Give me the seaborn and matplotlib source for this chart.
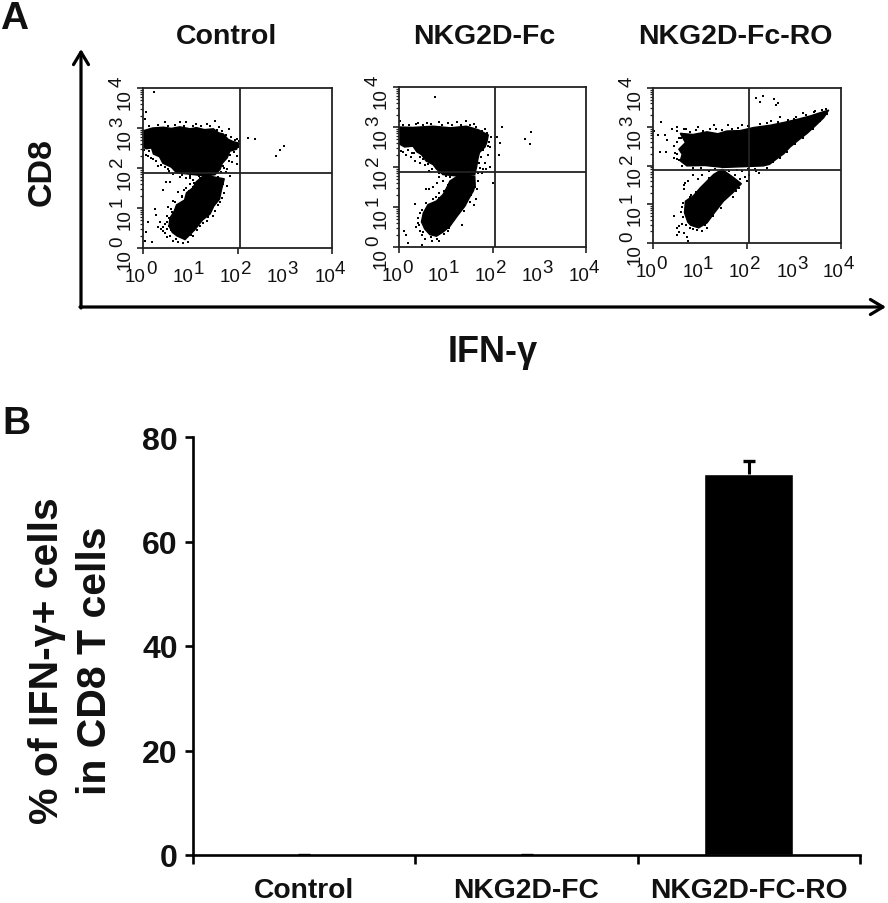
import numpy as np
import pandas as pd
import matplotlib
matplotlib.use("Agg")
import matplotlib.pyplot as plt
import seaborn as sns
from matplotlib.transforms import blended_transform_factory as blend

sns.set_theme(style="white")
plt.rcParams['font.family'] = ['Liberation Sans', 'DejaVu Sans']

W, H = 888, 904
PANEL_TITLES = ["Control", "NKG2D-Fc", "NKG2D-Fc-RO"]
BAR_CATS = ["Control", "NKG2D-FC", "NKG2D-FC-RO"]
BAR_VALS = [0.0, 0.0, 72.9]
BAR_ERR = [0.0, 0.0, 2.6]

# Flow cytometry populations, in log10 decades (IFN-g, CD8)
control_top = [(0,2.93),(0.2,3.0),(0.43,3.02),(0.6,2.99),(0.78,3.03),(1.0,2.98),(1.13,3.01),(1.3,2.96),(1.49,2.98),(1.6,2.88),(1.70,2.85),(1.8,2.72),(1.91,2.66),(2.04,2.62),(1.98,2.47),(1.84,2.42),(1.78,2.25),(1.68,2.12),(1.63,1.96),(1.52,1.83),(1.30,1.80),(1.10,1.83),(0.71,1.88),(0.60,2.02),(0.42,2.12),(0.35,2.28),(0.22,2.35),(0.18,2.5),(0.07,2.48),(0,2.52)]
control_low = [(1.30,1.82),(1.72,1.73),(1.66,1.45),(1.62,1.22),(1.50,1.05),(1.42,0.85),(1.26,0.70),(1.10,0.46),(0.89,0.21),(0.72,0.30),(0.62,0.39),(0.55,0.55),(0.57,0.75),(0.66,0.92),(0.71,1.08),(0.88,1.20),(0.92,1.38),(1.05,1.50),(1.13,1.66)]
control_pts = [(0.23,3.89),(0.06,3.39),(0.04,3.22),(0.46,3.14),(0.78,3.16),(0.92,3.14),(1.13,3.1),(1.35,3.1),(1.52,3.18),(1.6,3.02),(1.81,2.98),(1.99,2.73),(2.22,2.76),(2.38,2.72),(2.99,2.56),(2.91,2.46),(2.82,2.29),(1.99,2.31),(1.88,2.14),(1.77,1.98),(1.99,2.1),(1.7,2.06),(0.48,1.66),(0.58,1.66),(0.43,1.45),(0.78,1.77),(0.99,1.6),(1.06,1.52),(0.74,1.39),(0.64,1.18),(0.53,1.02),(0.25,0.98),(0.28,0.83),(0.35,0.64),(0.32,0.52),(0.43,0.43),(0.51,0.27),(0.64,0.18),(0.74,0.14),(0.11,0.64),(0.07,0.39),(0.18,0.14),(0.04,0.18),(0.5,0.64),(0.43,0.52),(1.7,1.6),(1.63,1.39),(1.63,1.14),(1.49,0.81),(1.35,0.68),(1.21,0.56),(1.06,0.31),(0.11,2.31),(0.21,2.23),(0.32,2.06),(0.43,2.14),(0.53,1.98),(0.35,2.31),(0.64,1.85),(1.0,1.8),(1.2,1.75),(1.05,1.7),(0.9,1.75),(0.55,0.55),(0.6,0.45),(0.47,0.6),(0.55,0.75),(0.62,0.9),(1.75,1.9),(1.85,1.8),(0.9,1.5),(0.82,1.3)]
control_fuzz = [(0.12,3.05),(0.31,3.07),(0.52,3.06),(0.68,3.08),(0.87,3.05),(1.05,3.06),(1.22,3.05),(1.41,3.04),(1.56,2.96),(1.67,2.93),(1.76,2.83),(1.86,2.78),(1.95,2.70),(2.03,2.68),(2.02,2.53),(1.92,2.40),(1.85,2.33),(1.83,2.18),(1.72,2.00),(1.66,1.90),(1.58,1.78),(1.45,1.74),(1.36,1.70),(1.28,1.72),(1.52,1.68),(1.18,1.80),(1.00,1.74),(0.82,1.83),(0.68,1.96),(0.56,1.92),(0.47,2.03),(0.38,2.08),(0.28,2.18),(0.16,2.26),(0.12,2.42),(0.03,2.44),(0.07,2.33),(1.77,1.55),(1.72,1.38),(1.68,1.26),(1.58,1.08),(1.52,0.93),(1.38,0.78),(1.28,0.62),(1.15,0.44),(1.02,0.32),(0.95,0.16),(0.84,0.12),(0.70,0.22),(0.58,0.30),(0.50,0.47),(0.46,0.37),(0.38,0.47),(0.50,0.80),(0.59,0.98),(0.68,1.14),(0.82,1.28),(0.87,1.44),(0.98,1.42),(1.07,1.62)]

fc_top = [(0,3.0),(0.3,2.99),(0.73,3.02),(1.1,2.98),(1.44,3.02),(1.70,2.93),(1.91,2.80),(1.88,2.62),(1.84,2.50),(1.72,2.36),(1.69,2.21),(1.66,2.0),(1.62,1.81),(1.2,1.78),(0.94,1.81),(0.80,1.95),(0.73,2.06),(0.58,2.15),(0.48,2.31),(0.38,2.38),(0.30,2.52),(0.12,2.50),(0,2.58)]
fc_low = [(1.62,1.77),(1.63,1.55),(1.59,1.40),(1.50,1.22),(1.41,1.02),(1.25,0.78),(1.09,0.52),(0.95,0.38),(0.8,0.27),(0.66,0.31),(0.55,0.45),(0.48,0.63),(0.52,0.85),(0.62,1.06),(0.80,1.15),(0.94,1.31),(1.02,1.48),(1.09,1.65),(1.3,1.81)]
fc_pts = [(0.76,3.74),(0.03,3.15),(0.4,3.1),(0.6,3.1),(0.85,3.13),(1.05,3.1),(1.25,3.13),(1.44,3.15),(1.6,3.08),(1.85,2.95),(2.1,2.75),(2.16,2.6),(2.14,2.3),(2.2,3.0),(2.7,2.7),(2.8,2.58),(2.82,2.88),(1.95,2.5),(1.9,2.3),(1.85,2.1),(1.95,2.0),(1.8,1.95),(2.0,1.6),(1.62,1.5),(1.65,1.2),(1.6,1.05),(1.4,0.9),(1.35,0.55),(1.05,0.4),(0.85,0.15),(0.7,0.15),(0.55,0.2),(0.5,0.05),(0.1,0.4),(0.15,0.3),(0.2,0.1),(0.35,1.08),(0.45,0.85),(0.4,0.6),(0.37,0.5),(0.45,0.4),(0.5,0.3),(0.57,1.45),(0.65,1.45),(0.72,1.5),(0.82,1.6),(0.85,1.35),(0.8,1.25),(0.85,1.75),(1.0,1.78),(0.95,1.65),(0.05,2.4),(0.15,2.3),(0.25,2.25),(0.35,2.15),(0.45,2.1),(0.55,2.05),(0.65,1.9)]
fc_fuzz = [(0.08,3.06),(0.22,3.05),(0.36,3.07),(0.52,3.06),(0.68,3.07),(0.92,3.05),(1.14,3.05),(1.32,3.06),(1.52,3.04),(1.64,3.0),(1.77,2.91),(1.89,2.86),(1.96,2.76),(1.93,2.62),(1.90,2.52),(1.79,2.42),(1.76,2.26),(1.71,2.10),(1.74,1.97),(1.86,1.94),(1.77,1.86),(1.68,1.84),(1.55,1.70),(1.44,1.74),(1.32,1.68),(1.22,1.72),(1.10,1.74),(0.86,1.86),(0.70,1.96),(0.62,2.08),(0.52,2.20),(0.44,2.24),(0.33,2.36),(0.20,2.42),(0.09,2.38),(0.27,2.36),(1.68,1.66),(1.66,1.44),(1.54,1.30),(1.52,1.12),(1.38,1.04),(1.28,0.84),(1.17,0.72),(1.08,0.47),(0.96,0.32),(0.82,0.20),(0.68,0.24),(0.52,0.38),(0.43,0.55),(0.41,0.73),(0.49,0.93),(0.57,1.10),(0.72,1.20),(0.86,1.22),(0.96,1.40),(1.04,1.56)]

ro_top = [(0.58,2.83),(0.85,2.80),(1.15,2.87),(1.38,2.82),(1.57,2.89),(1.85,2.90),(2.14,2.98),(2.50,3.04),(2.78,3.11),(3.10,3.20),(3.35,3.28),(3.55,3.36),(3.74,3.43),(3.63,3.23),(3.45,3.02),(3.28,2.83),(3.10,2.66),(2.92,2.48),(2.78,2.30),(2.64,2.18),(2.48,2.03),(2.35,1.99),(1.93,1.97),(1.5,1.95),(1.1,2.0),(0.72,1.99),(0.58,2.12),(0.62,2.29),(0.55,2.42),(0.69,2.59)]
ro_low = [(1.47,1.90),(1.70,1.70),(1.88,1.53),(1.70,1.30),(1.50,1.08),(1.32,0.80),(1.15,0.52),(0.97,0.39),(0.80,0.46),(0.74,0.54),(0.67,0.78),(0.69,1.08),(0.86,1.22),(1.01,1.43),(1.15,1.60),(1.29,1.77)]
ro_pts = [(2.2,3.75),(2.33,3.8),(2.57,3.72),(2.65,3.62),(2.62,3.55),(2.27,3.63),(2.7,3.25),(0.18,3.12),(0.03,2.9),(0.1,2.8),(0.25,2.8),(0.3,2.65),(0.15,2.35),(0.28,2.35),(0.4,2.95),(0.5,3.0),(0.55,2.7),(0.45,2.5),(0.5,2.3),(0.45,2.2),(0.55,2.15),(0.7,2.95),(0.95,3.0),(1.3,3.05),(1.35,2.95),(1.6,3.05),(1.9,3.05),(2.5,3.15),(3.0,3.2),(3.45,3.4),(3.6,3.42),(3.2,3.35),(2.2,1.85),(2.25,1.8),(2.05,1.75),(1.95,1.7),(1.9,1.85),(2.0,1.6),(1.85,1.65),(1.75,1.75),(1.55,1.7),(1.2,1.85),(1.05,1.75),(0.95,1.65),(0.85,1.75),(0.75,1.6),(0.68,1.55),(0.65,1.5),(0.65,1.4),(0.8,1.25),(0.62,0.5),(0.55,0.45),(0.5,0.4),(0.65,0.25),(0.55,0.28),(0.5,0.2),(0.72,0.15),(0.75,0.05),(0.85,0.35),(1.05,0.3),(1.15,0.4),(1.45,0.9),(1.7,1.2),(0.45,0.7),(0.6,0.8)]
ro_fuzz = [(0.52,2.88),(0.66,2.93),(0.78,2.86),(0.92,2.92),(1.06,2.90),(1.22,2.93),(1.46,2.92),(1.68,2.95),(1.80,2.97),(2.02,3.03),(2.28,3.06),(2.42,3.09),(2.65,3.13),(2.88,3.18),(3.05,3.25),(3.25,3.31),(3.42,3.38),(3.68,3.47),(3.70,3.32),(3.56,3.14),(3.40,2.93),(3.20,2.72),(3.02,2.55),(2.86,2.36),(2.70,2.20),(2.56,2.08),(2.42,1.94),(2.18,1.92),(2.02,1.91),(1.78,1.88),(1.62,1.86),(1.32,1.90),(1.02,1.93),(0.86,1.94),(0.62,2.00),(0.52,2.18),(0.47,2.33),(0.50,2.60),(0.60,2.70),(1.40,1.75),(1.60,1.62),(1.78,1.50),(1.84,1.42),(1.76,1.34),(1.58,1.20),(1.43,1.00),(1.27,0.70),(1.11,0.47),(0.94,0.34),(0.78,0.40),(0.70,0.47),(0.63,0.68),(0.62,0.92),(0.64,1.04),(0.78,1.20),(0.92,1.32),(1.08,1.48),(1.20,1.68)]

panels = [
    (143, 332, 89, 249, control_top, control_low, control_pts + control_fuzz, 2.05, 1.87),
    (399, 586, 88, 248, fc_top, fc_low, fc_pts + fc_fuzz, 2.05, 1.87),
    (653, 841, 89, 244, ro_top, ro_low, ro_pts + ro_fuzz, 2.04, 1.88),
]
title_x = [226, 484, 735]
DECADES = [0, 1, 2, 3, 4]

fig = plt.figure(figsize=(W / 100, H / 100), dpi=100, facecolor="white")

def px_axes(l, r, t, b):
    return fig.add_axes([l / W, 1 - b / H, (r - l) / W, (b - t) / H])

PX = 0.72  # points per pixel at dpi 100
tick_fp = dict(fontsize=13.5, color="#111111")
for (l, r, t, b, top, low, pts, qx, qy), name, tx in zip(panels, PANEL_TITLES, title_x):
    ax = px_axes(l, r, t, b)
    ax.set_xscale("log"); ax.set_yscale("log")
    for poly in (top, low):
        arr = 10.0 ** np.array(poly)
        ax.fill(arr[:, 0], arr[:, 1], color="black", lw=1.0)
    df = pd.DataFrame(10.0 ** np.array(pts), columns=["ifn", "cd8"])
    sns.scatterplot(data=df, x="ifn", y="cd8", ax=ax, marker="s", s=3.2,
                    color="black", linewidth=0, clip_on=False, legend=False)
    ax.axvline(10 ** qx, color="#222222", lw=1.3)
    ax.axhline(10 ** qy, color="#222222", lw=1.3)
    ax.set_xlim(1, 1e4); ax.set_ylim(1, 1e4)
    ax.set_xlabel(""); ax.set_ylabel("")
    for s in ax.spines.values():
        s.set_visible(True); s.set_linewidth(1.3); s.set_color("#222222")
    ax.tick_params(axis="both", which="major", length=4, width=1.2, color="#222222",
                   bottom=True, left=True, labelbottom=False, labelleft=False)
    ax.tick_params(axis="both", which="minor", length=2.5, width=0.9, color="#222222",
                   bottom=True, left=True, labelbottom=False, labelleft=False)
    xt = blend(ax.transData, ax.transAxes)
    yt = blend(ax.transAxes, ax.transData)
    for d in DECADES:
        v = 10.0 ** d
        ax.annotate("10", (v, 0), xycoords=xt, xytext=(3 * PX, -33 * PX), textcoords="offset points",
                    ha="right", va="baseline", **tick_fp)
        ax.annotate(str(d), (v, 0), xycoords=xt, xytext=(3 * PX, -25 * PX), textcoords="offset points",
                    ha="left", va="baseline", **tick_fp)
        ax.annotate("10", (0, v), xycoords=yt, xytext=(-13 * PX, 0), textcoords="offset points",
                    ha="right", va="baseline", rotation=90, rotation_mode="anchor", **tick_fp)
        ax.annotate(str(d), (0, v), xycoords=yt, xytext=(-21 * PX, 2 * PX), textcoords="offset points",
                    ha="left", va="baseline", rotation=90, rotation_mode="anchor", **tick_fp)
    fig.text(tx / W, 1 - 37 / H, name, fontsize=20.5, fontweight="bold", color="#111111",
             ha="center", va="center")

# Overlay for panel A arrows and figure letters
ov = fig.add_axes([0, 0, 1, 1], facecolor="none")
ov.set_xlim(0, W); ov.set_ylim(H, 0); ov.axis("off")
arrow = dict(arrowstyle="->,head_length=0.75,head_width=0.45", color="black", lw=2.3, shrinkA=0, shrinkB=0)
ov.annotate("", xy=(81, 50), xytext=(81, 309), arrowprops=arrow)
ov.annotate("", xy=(886, 308), xytext=(80, 308), arrowprops=arrow)
ov.text(42, 172, "CD8", fontsize=24.5, fontweight="bold", rotation=90, ha="center", va="center", color="#111111")
ov.text(493, 353, "IFN-γ", fontsize=26, fontweight="bold", ha="center", va="center", color="#111111")
ov.text(14, 1, "A", fontsize=28, fontweight="bold", ha="center", va="top", color="#111111")
ov.text(16, 406, "B", fontsize=28, fontweight="bold", ha="center", va="top", color="#111111")
ov.text(47, 661, "% of IFN-γ+ cells", fontsize=29.5, fontweight="bold", rotation=90, ha="center", va="center", color="#111111")
ov.text(95, 661, "in CD8 T cells", fontsize=29.5, fontweight="bold", rotation=90, ha="center", va="center", color="#111111")

# Panel B
bx = px_axes(193, 860, 438, 856)
bar_df = pd.DataFrame({"group": BAR_CATS, "pct": BAR_VALS})
sns.barplot(data=bar_df, x="group", y="pct", ax=bx, color="black", saturation=1, width=0.4, errorbar=None)
eb = bx.errorbar(range(3), BAR_VALS, yerr=[[0, 0, 0], BAR_ERR], fmt="none", ecolor="black", elinewidth=2.2,
                 capsize=4.3, capthick=2.4)
eb[1][0].set_visible(False)
bx.set_xlim(-0.5, 2.5); bx.set_ylim(0, 80)
bx.set_xlabel(""); bx.set_ylabel("")
bx.patch.set_alpha(0)
sns.despine(ax=bx)
for s in ("left", "bottom"):
    bx.spines[s].set_linewidth(1.9); bx.spines[s].set_color("black")
bx.set_yticks([0, 20, 40, 60, 80])
bx.tick_params(axis="y", left=True, length=6, width=1.9, color="black", labelsize=23, pad=5)
bx.set_xticks([-0.5, 0.5, 1.5, 2.5])
bx.set_xticklabels([])
bx.tick_params(axis="x", bottom=True, length=6.5, width=1.9, color="black")
for lab in bx.get_yticklabels():
    lab.set_fontweight("bold"); lab.set_color("#111111")
for i, c in enumerate(BAR_CATS):
    bx.annotate(c, (i, 0), xycoords=blend(bx.transData, bx.transAxes), xytext=(0, -22 * PX),
                textcoords="offset points", ha="center", va="top", fontsize=20.3,
                fontweight="bold", color="#111111")

fig.savefig("out.png", dpi=100, facecolor="white")
